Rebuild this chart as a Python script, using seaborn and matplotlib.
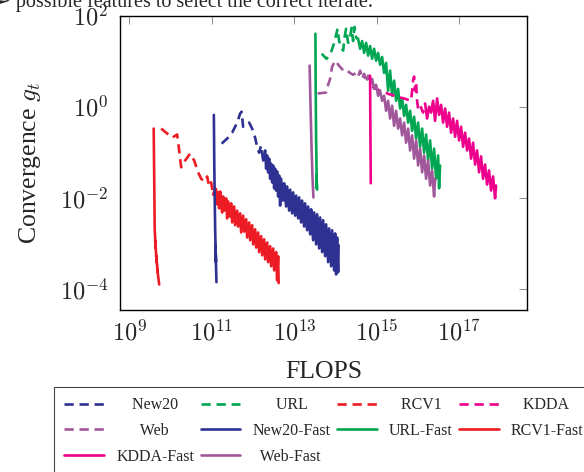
import numpy as np
import pandas as pd
import matplotlib
matplotlib.use("Agg")
import matplotlib.pyplot as plt
import seaborn as sns

# 数据：横轴 log10(FLOPS)，纵轴 log10(g_t)
rcv1_fast_x = [9.587, 9.599, 9.611, 9.635, 9.623, 9.659, 9.647, 9.684, 9.672, 9.708, 9.72]
rcv1_fast_y = [-0.48, -1.51, -2.67, -3.11, -2.93, -3.41, -3.26, -3.63, -3.55, -3.81, -3.90]

rcv1_x = [9.768, 9.914, 10.035, 10.156, 10.205, 10.253, 10.350, 10.471, 10.568, 10.665, 10.738, 10.811,
          10.884, 10.932, 10.980, 11.028, 11.077,
          11.102, 11.126, 11.150, 11.174, 11.199, 11.247, 11.271, 11.296, 11.344, 11.368, 11.393, 11.441,
          11.465, 11.490, 11.538, 11.562, 11.611, 11.635, 11.684, 11.708, 11.756, 11.781, 11.829, 11.853,
          11.902, 11.926, 11.975, 11.999, 12.047, 12.072, 12.120, 12.144, 12.193, 12.217, 12.265, 12.290,
          12.338, 12.362, 12.411, 12.435, 12.484, 12.508, 12.556, 12.580, 12.605, 12.617]
rcv1_y = [-0.48, -0.59, -0.68, -0.61, -0.96, -1.33, -1.18, -1.03, -1.18, -1.44, -1.58, -1.64,
          -1.53, -1.75, -1.66, -1.93, -1.79,
          -1.82, -2.14, -1.88, -2.23, -1.86, -2.32, -1.97, -2.28, -2.01, -2.45, -2.08, -2.41,
          -2.12, -2.54, -2.19, -2.60, -2.28, -2.63, -2.34, -2.76, -2.39, -2.74, -2.47, -2.87,
          -2.54, -2.93, -2.60, -3.02, -2.69, -3.09, -2.76, -3.19, -2.84, -3.26, -2.91, -3.35,
          -2.98, -3.41, -3.06, -3.50, -3.11, -3.59, -3.19, -3.81, -3.28, -3.87]

new20_fast_x = [11.046, 11.058, 11.078, 11.097, 11.085, 11.109]
new20_fast_y = [-0.18, -1.40, -2.71, -3.41, -3.04, -3.85]

new20_x = [11.235, 11.369, 11.490, 11.611, 11.684, 11.720, 11.756, 11.829, 11.902, 11.975, 12.047, 12.096,
           12.144, 12.193, 12.241,
           12.290, 12.314, 12.338, 12.362, 12.387, 12.411, 12.435, 12.459, 12.484, 12.508, 12.532, 12.556,
           12.580, 12.605, 12.629, 12.653, 12.677, 12.726, 12.750, 12.799, 12.823, 12.872, 12.896, 12.944,
           12.968, 13.017, 13.041, 13.090, 13.114, 13.162, 13.187, 13.235, 13.259, 13.308, 13.332, 13.381,
           13.405, 13.453, 13.478, 13.526, 13.550, 13.599, 13.623, 13.672, 13.696, 13.744, 13.768, 13.817,
           13.841, 13.890, 13.914, 13.962, 13.987, 14.011, 14.035, 14.060, 14.072]
new20_y = [-0.81, -0.70, -0.57, -0.35, -0.15, -0.11, -0.44, -0.42, -0.35, -0.48, -0.68, -0.88,
           -1.01, -0.85, -1.18,
           -0.96, -1.36, -1.07, -1.44, -1.14, -1.58, -1.25, -1.66, -1.29, -1.79, -1.36, -1.84,
           -1.42, -1.97, -1.51, -2.17, -1.58, -2.06, -1.68, -2.19, -1.75, -2.28, -1.82, -2.34,
           -1.88, -2.39, -1.95, -2.45, -1.99, -2.54, -2.06, -2.63, -2.12, -2.71, -2.19, -2.80,
           -2.25, -2.93, -2.32, -3.02, -2.36, -3.11, -2.43, -3.19, -2.49, -3.28, -2.58, -3.41,
           -2.67, -3.50, -2.71, -3.59, -2.78, -3.68, -2.87, -3.63, -3.04]

web_fast_x = [13.368, 13.393, 13.417, 13.441, 13.461]
web_fast_y = [0.90, -0.09, -0.96, -1.62, -1.99]

url_fast_x = [13.509, 13.516, 13.526, 13.543, 13.531, 13.550]
url_fast_y = [1.60, 0.35, -0.74, -1.79, -1.51, -1.82]

web_x = [13.562, 13.672, 13.768, 13.817, 13.865, 13.914, 13.962, 14.011, 14.060, 14.132, 14.205, 14.278,
         14.350, 14.423, 14.496, 14.544, 14.593, 14.641, 14.690, 14.738, 14.787, 14.835, 14.884, 14.932,
         14.981, 15.029, 15.078, 15.126, 15.175, 15.223, 15.272, 15.320, 15.369, 15.417, 15.466, 15.514,
         15.563, 15.611, 15.660, 15.708, 15.757, 15.805, 15.854, 15.902, 15.951, 15.999, 16.047, 16.096,
         16.144, 16.193, 16.241, 16.290, 16.338, 16.387, 16.411]
web_y = [0.29, 0.30, 0.31, 0.48, 0.61, 0.88, 0.96, 1.01, 0.92, 0.85, 0.77, 0.79,
         0.74, 0.70, 0.74, 0.66, 0.79, 0.61, 0.72, 0.53, 0.68, 0.48, 0.61, 0.39,
         0.48, 0.24, 0.35, 0.13, 0.24, -0.09, 0.13, -0.26, 0.02, -0.42, -0.09, -0.48,
         -0.26, -0.63, -0.35, -0.79, -0.48, -0.96, -0.63, -1.14, -0.74, -1.29, -0.92, -1.44,
         -1.07, -1.58, -1.18, -1.73, -1.40, -1.97, -1.58]

url_x = [13.660, 13.781, 13.841, 13.902, 13.950, 13.999, 14.047, 14.084, 14.132, 14.181, 14.217, 14.253,
         14.302, 14.350, 14.387, 14.423, 14.459, 14.496, 14.544, 14.593, 14.641, 14.690, 14.738, 14.787,
         14.835, 14.884, 14.932, 14.981, 15.029, 15.078, 15.126, 15.175, 15.223, 15.272, 15.320, 15.369,
         15.417, 15.466, 15.514, 15.563, 15.611, 15.660, 15.708, 15.757, 15.805, 15.854, 15.902, 15.951,
         15.999, 16.047, 16.096, 16.144, 16.193, 16.241, 16.290, 16.338, 16.387, 16.435, 16.484, 16.508,
         16.532]
url_y = [1.16, 1.05, 1.12, 1.23, 1.36, 1.53, 1.71, 1.44, 1.31, 1.23, 1.53, 1.71,
         1.40, 1.53, 1.73, 1.44, 1.75, 1.51, 1.49, 1.27, 1.44, 1.18, 1.40, 1.12,
         1.33, 1.05, 1.27, 1.01, 1.18, 0.92, 1.09, 0.74, 0.96, 0.35, 0.79, 0.24,
         0.57, 0.13, 0.39, -0.04, 0.18, -0.20, 0.04, -0.35, -0.09, -0.53, -0.22, -0.70,
         -0.35, -0.88, -0.48, -1.01, -0.61, -1.18, -0.74, -1.36, -0.92, -1.58, -1.07, -1.79,
         -1.29]

kdda_fast_x = [14.835, 14.842, 14.852]
kdda_fast_y = [0.68, -0.53, -1.68]

kdda_x = [14.884, 14.981, 15.078, 15.175, 15.272, 15.369, 15.466, 15.563, 15.660, 15.757, 15.829, 15.878,
          15.902, 15.926, 15.951, 15.975, 15.999, 16.047, 16.120, 16.169, 16.217, 16.266, 16.314, 16.363,
          16.411, 16.460, 16.508, 16.557, 16.605, 16.654, 16.702, 16.750, 16.799, 16.847, 16.896, 16.944,
          16.993, 17.041, 17.090, 17.138, 17.187, 17.235, 17.284, 17.332, 17.381, 17.429, 17.478, 17.526,
          17.575, 17.623, 17.672, 17.720, 17.769, 17.817, 17.866, 17.890]
kdda_y = [0.44, 0.39, 0.35, 0.33, 0.28, 0.26, 0.22, 0.20, 0.18, 0.15, 0.13, 0.57,
          0.66, 0.35, 0.53, 0.13, -0.04, 0.04, -0.13, 0.07, -0.26, 0.00, -0.13, 0.13,
          -0.31, 0.18, -0.18, 0.04, -0.35, -0.04, -0.44, -0.13, -0.57, -0.26, -0.66, -0.31,
          -0.74, -0.44, -0.88, -0.57, -0.96, -0.70, -1.14, -0.79, -1.27, -0.96, -1.44, -1.09,
          -1.58, -1.27, -1.71, -1.40, -1.84, -1.53, -2.01, -1.73]

xticks = [1e9, 1e11, 1e13, 1e15, 1e17]
xticklabels = ["$10^{9}$", "$10^{11}$", "$10^{13}$", "$10^{15}$", "$10^{17}$"]
yticks = [1e-4, 1e-2, 1e0, 1e2]
yticklabels = ["$10^{-4}$", "$10^{-2}$", "$10^{0}$", "$10^{2}$"]

c_blue = "#2e3192"
c_green = "#00a651"
c_red = "#ed1c24"
c_pink = "#ec008c"
c_purple = "#a0589a"

# 绘图顺序同图例顺序；最后一项为密集噪声段开始的下标（该段画得很密，看起来是实线）
series = [
    ("New20", new20_x, new20_y, c_blue, True, 14),
    ("URL", url_x, url_y, c_green, True, 18),
    ("RCV1", rcv1_x, rcv1_y, c_red, True, 15),
    ("KDDA", kdda_x, kdda_y, c_pink, True, 19),
    ("Web", web_x, web_y, c_purple, True, 22),
    ("New20-Fast", new20_fast_x, new20_fast_y, c_blue, False, None),
    ("URL-Fast", url_fast_x, url_fast_y, c_green, False, None),
    ("RCV1-Fast", rcv1_fast_x, rcv1_fast_y, c_red, False, None),
    ("KDDA-Fast", kdda_fast_x, kdda_fast_y, c_pink, False, None),
    ("Web-Fast", web_fast_x, web_fast_y, c_purple, False, None),
]

sns.set_theme(style="white")
plt.rcParams["font.family"] = ["Liberation Serif", "DejaVu Sans"]
plt.rcParams["mathtext.fontset"] = "cm"

fig = plt.figure(figsize=(5.84, 4.72), dpi=100)
ax = fig.add_axes([120 / 584, 1 - 310 / 472, 407 / 584, (310 - 15.5) / 472])

lw = 1.9
dash = (0, (3.5, 2.2))
handles = {}
for name, lx, ly, col, dashed, k in series:
    df = pd.DataFrame({"flops": 10 ** np.array(lx), "g": 10 ** np.array(ly)})
    if dashed:
        sns.lineplot(data=df.iloc[:k + 1], x="flops", y="g", ax=ax, sort=False, estimator=None,
                     color=col, linewidth=lw, linestyle=dash, legend=False)
        handles[name] = ax.lines[-1]
        sns.lineplot(data=df.iloc[k:], x="flops", y="g", ax=ax, sort=False, estimator=None,
                     color=col, linewidth=lw, linestyle="-", legend=False)
    else:
        sns.lineplot(data=df, x="flops", y="g", ax=ax, sort=False, estimator=None,
                     color=col, linewidth=lw, linestyle="-", legend=False)
        handles[name] = ax.lines[-1]

ax.set_xscale("log")
ax.set_yscale("log")
ax.set_xlim(10 ** 8.77, 10 ** 18.64)
ax.set_ylim(10 ** -4.46, 1e2)
ax.set_xticks(xticks, xticklabels)
ax.set_yticks(yticks, yticklabels)
ax.minorticks_off()
ax.tick_params(axis="both", which="major", direction="in", length=6, width=0.6, color="#777777",
               top=True, right=True, labelsize=17.5, pad=7)
ax.tick_params(axis="y", pad=8.5)
for sp in ax.spines.values():
    sp.set_color("black")
    sp.set_linewidth(1.0)

ax.set_xlabel("FLOPS", fontsize=18.5, labelpad=11)
ax.set_ylabel("Convergence $g_t$", fontsize=18.5, labelpad=12)

# 图例：4列，按行填充；短标签前补空格，近似居中
order = ["New20", "Web", "KDDA-Fast", "URL", "New20-Fast", "Web-Fast", "RCV1", "URL-Fast", "KDDA", "RCV1-Fast"]
pad = {"New20": 4, "Web": 6, "URL": 6, "Web-Fast": 2, "RCV1": 3, "KDDA": 3}
labels = [" " * pad.get(n, 0) + n for n in order]
leg = fig.legend([handles[n] for n in order], labels, ncol=4, loc="upper left",
                 bbox_to_anchor=(54 / 584, 1 - 387 / 472), fontsize=11.5,
                 handlelength=2.5, handletextpad=0.75, columnspacing=0.4,
                 labelspacing=0.6, borderpad=0.65, borderaxespad=0,
                 frameon=True, fancybox=False, framealpha=1, edgecolor="#444444")
leg.get_frame().set_linewidth(0.8)

# 顶部被截断的正文
fig.text(-6 / 584, 1 - 7 / 472, "➢ possible features to select the correct iterate.",
         fontsize=14.5, va="baseline", ha="left")

fig.savefig("out.png", dpi=100)
